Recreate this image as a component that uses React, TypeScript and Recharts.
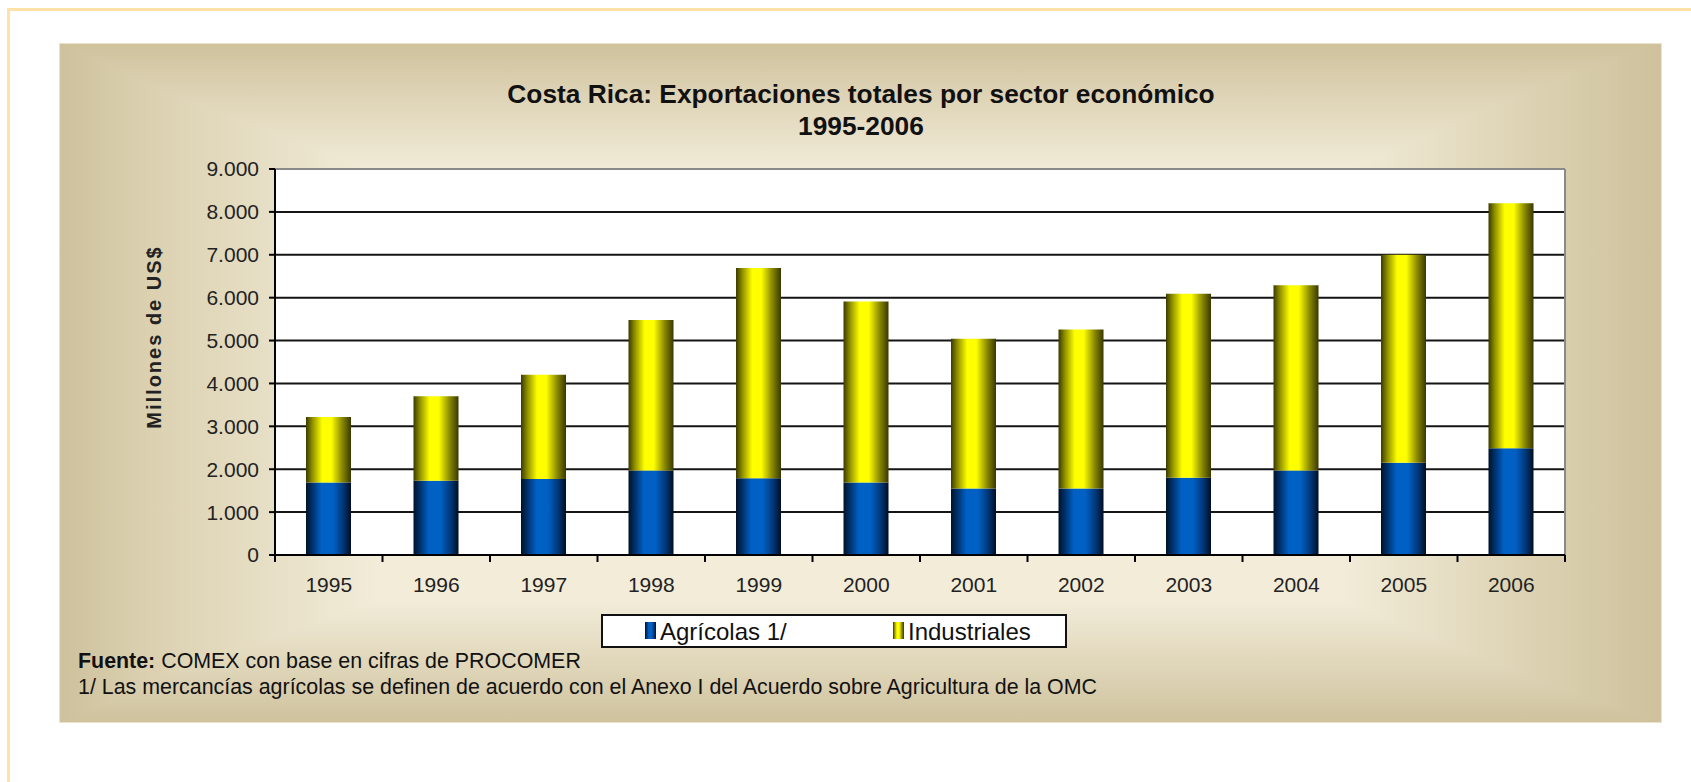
import React from 'react';
import { BarChart, Bar, XAxis, YAxis, CartesianGrid, ReferenceLine } from 'recharts';

const years = ['1995', '1996', '1997', '1998', '1999', '2000', '2001', '2002', '2003', '2004', '2005', '2006'];
const agricolas = [1690, 1730, 1770, 1970, 1790, 1690, 1550, 1550, 1800, 1970, 2150, 2490];
const industriales = [1530, 1970, 2430, 3510, 4900, 4220, 3490, 3710, 4290, 4320, 4850, 5710];
const yTicks = [0, 1000, 2000, 3000, 4000, 5000, 6000, 7000, 8000, 9000];
const seriesNames = ['Agrícolas 1/', 'Industriales'];
const titleLines = ['Costa Rica: Exportaciones totales por sector económico', '1995-2006'];
const yLabel = 'Millones de US$';
const sourceLabel = 'Fuente:';
const sourceText = ' COMEX con base en cifras de PROCOMER';
const noteText = '1/ Las mercancías agrícolas se definen de acuerdo con el Anexo I del Acuerdo sobre Agricultura de la OMC';

const data = years.map((y, i) => ({ year: y, agricolas: agricolas[i], industriales: industriales[i] }));

const FONT = '"Liberation Sans", Arial, Helvetica, sans-serif';

const fmt = (v: number) => String(v).replace(/\B(?=(\d{3})+(?!\d))/g, '.');

const XTick = (props: any) => {
  const { x, y, payload, index } = props;
  const half = payload && typeof payload.offset === 'number' && payload.offset > 0 ? payload.offset : 53.75;
  return (
    <g>
      <line x1={x - half} x2={x - half} y1={y} y2={y + 7} stroke="#000" strokeWidth={2} />
      {index === years.length - 1 && (
        <line x1={x + half} x2={x + half} y1={y} y2={y + 7} stroke="#000" strokeWidth={2} />
      )}
      <text x={x} y={y + 37} textAnchor="middle" fontSize={21} fill="#222" fontFamily={FONT}>
        {payload.value}
      </text>
    </g>
  );
};

const blueStops = [
  ['0%', '#001228'],
  ['14%', '#00306a'],
  ['34%', '#0060c4'],
  ['60%', '#0060c4'],
  ['82%', '#00387a'],
  ['100%', '#000e24'],
];
const yellowStops = [
  ['0%', '#3a3a00'],
  ['14%', '#8f8f00'],
  ['36%', '#ffff00'],
  ['56%', '#ffff00'],
  ['80%', '#8a8a00'],
  ['100%', '#383800'],
];

const cssGrad = (stops: string[][]) =>
  `linear-gradient(90deg, ${stops.map((s) => `${s[1]} ${s[0]}`).join(', ')})`;

export default function App() {
  return (
    <div style={{ position: 'absolute', left: 0, top: 0, width: 1691, height: 782, background: '#fff', overflow: 'hidden' }}>
      {/* outer frame */}
      <div
        style={{
          position: 'absolute',
          left: 7,
          top: 8,
          width: 1720,
          height: 820,
          border: '3px solid #ffe2a8',
          boxSizing: 'border-box',
        }}
      />
      {/* beige panel */}
      <div
        style={{
          position: 'absolute',
          left: 59,
          top: 43,
          width: 1603,
          height: 680,
          boxSizing: 'border-box',
          border: '1px solid #ebe3cc',
          backgroundImage:
            'linear-gradient(90deg, #cec19c 0%, #dcd2b2 6%, #f2ecd9 20%, #f2ecd9 80%, #dcd2b2 92%, #cec19c 100%), ' +
            'linear-gradient(180deg, #cfc29d 0%, #ddd2b4 7%, #f2ecd9 19%, #f2ecd9 82%, #ddd3b5 93%, #cfc29d 100%)',
          backgroundBlendMode: 'darken',
        }}
      >
        <BarChart
          width={1603}
          height={680}
          data={data}
          margin={{ top: 125, right: 98, left: 135, bottom: 109 }}
          barSize={45}
          style={{ fontFamily: FONT }}
        >
          <defs>
            <linearGradient id="gBlue" x1="0" y1="0" x2="1" y2="0">
              {blueStops.map((s) => (
                <stop key={s[0]} offset={s[0]} stopColor={s[1]} />
              ))}
            </linearGradient>
            <linearGradient id="gYellow" x1="0" y1="0" x2="1" y2="0">
              {yellowStops.map((s) => (
                <stop key={s[0]} offset={s[0]} stopColor={s[1]} />
              ))}
            </linearGradient>
          </defs>
          <CartesianGrid vertical={false} stroke="#151515" strokeWidth={2} fill="#ffffff" />
          <XAxis
            dataKey="year"
            type="category"
            height={60}
            interval={0}
            tickSize={0}
            tickMargin={0}
            tickLine={false}
            axisLine={{ stroke: '#000', strokeWidth: 2 }}
            tick={<XTick />}
          />
          <YAxis
            type="number"
            domain={[0, 9000]}
            ticks={yTicks}
            interval={0}
            width={80}
            tickSize={6}
            tickMargin={10}
            tickFormatter={fmt}
            tick={{ fontSize: 21, fill: '#222', fontFamily: FONT }}
            axisLine={{ stroke: '#000', strokeWidth: 2 }}
            tickLine={{ stroke: '#000', strokeWidth: 2 }}
          />
          <Bar dataKey="agricolas" name={seriesNames[0]} stackId="s" fill="url(#gBlue)" isAnimationActive={false} />
          <Bar dataKey="industriales" name={seriesNames[1]} stackId="s" fill="url(#gYellow)" isAnimationActive={false} />
          <ReferenceLine y={9000} stroke="#8a8a8a" strokeWidth={2} ifOverflow="extendDomain" />
          <ReferenceLine x={years[years.length - 1]} position="end" stroke="#8a8a8a" strokeWidth={2} />
        </BarChart>
      </div>
      {/* text overlay */}
      <svg
        width={1691}
        height={782}
        style={{ position: 'absolute', left: 0, top: 0, pointerEvents: 'none' }}
        fontFamily={FONT}
      >
        <text x={861} y={103} textAnchor="middle" fontSize={26.3} fontWeight="bold" fill="#111">
          {titleLines[0]}
        </text>
        <text x={861} y={135} textAnchor="middle" fontSize={26.3} fontWeight="bold" fill="#111">
          {titleLines[1]}
        </text>
        <text
          x={154}
          y={337}
          textAnchor="middle"
          dominantBaseline="central"
          fontSize={20}
          fontWeight="bold"
          letterSpacing={2}
          fill="#222"
          transform="rotate(-90 154 337)"
        >
          {yLabel}
        </text>
        {/* legend */}
        <rect x={602} y={615} width={464} height={32} fill="#fff" stroke="#111" strokeWidth={2} />
        <foreignObject x={645} y={622} width={12} height={18}>
          <div style={{ width: 11, height: 17, background: cssGrad(blueStops) }} />
        </foreignObject>
        <text x={660} y={640} fontSize={24} fill="#111">
          {seriesNames[0]}
        </text>
        <foreignObject x={893} y={622} width={12} height={18}>
          <div style={{ width: 11, height: 17, background: cssGrad(yellowStops) }} />
        </foreignObject>
        <text x={908} y={640} fontSize={24} fill="#111">
          {seriesNames[1]}
        </text>
        {/* notes */}
        <text x={78} y={668} fontSize={21.4} fill="#111">
          <tspan fontWeight="bold">{sourceLabel}</tspan>
          <tspan>{sourceText}</tspan>
        </text>
        <text x={78} y={694} fontSize={21.4} fill="#111">
          {noteText}
        </text>
      </svg>
    </div>
  );
}
